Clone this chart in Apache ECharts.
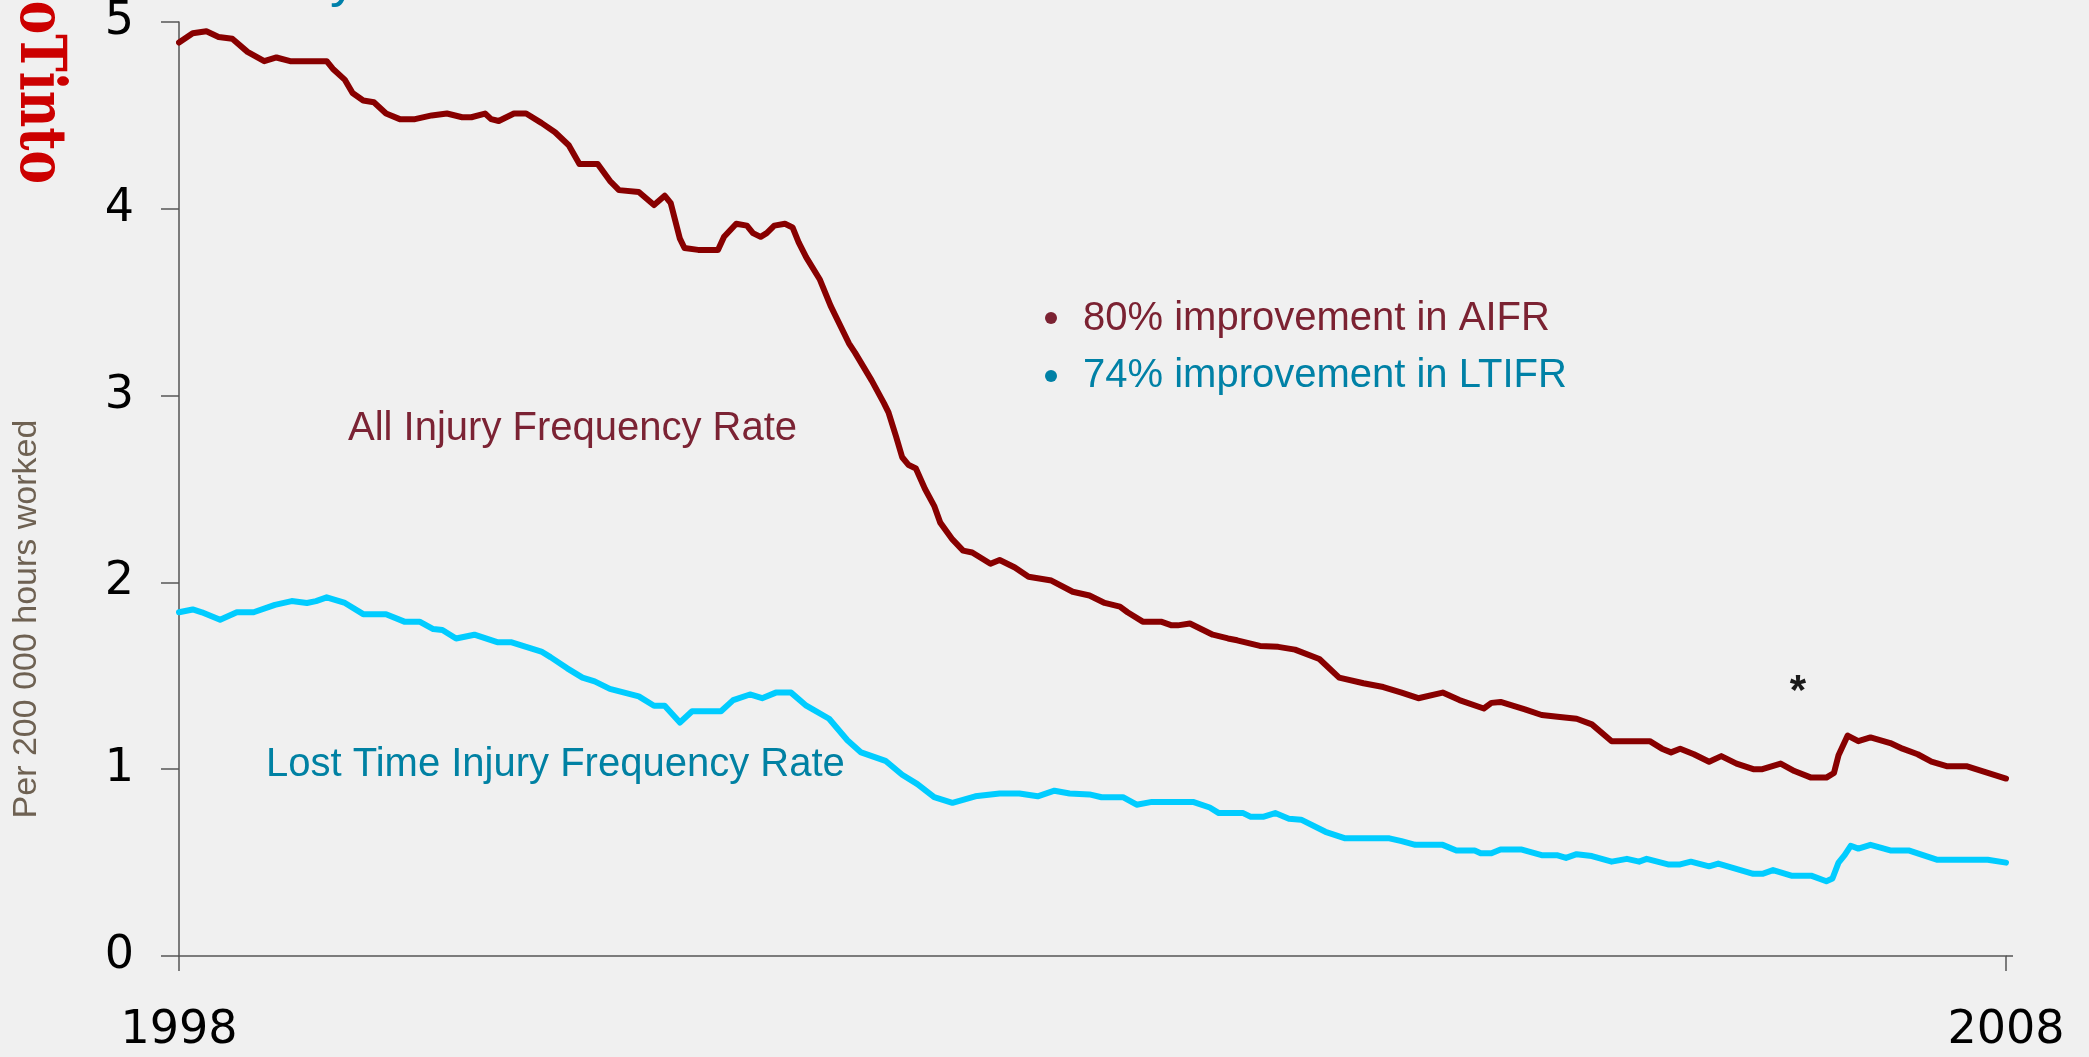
<!DOCTYPE html>
<html>
<head>
<meta charset="utf-8">
<script src="https://cdn.jsdelivr.net/npm/echarts@6/dist/echarts.min.js"></script>
<style>
  html, body { margin: 0; padding: 0; background: #f0f0f0; }
  #chart { width: 2089px; height: 1057px; }
</style>
</head>
<body>
<div id="chart"></div>
<script>
// Months elapsed since Jan 1998 (0 = 1998, 120 = 2008)
const aifrMonths = [0,0.9,1.8,2.6,3.5,4.5,5.6,6.4,7.3,9.7,10.1,10.9,11.4,12.1,12.8,13.6,14.5,15.5,16.6,17.6,18.6,19.2,20.1,20.5,21.0,22.0,22.8,23.8,24.7,25.6,26.3,27.5,28.3,28.9,30.2,31.2,31.9,32.3,32.9,33.2,34.1,35.4,35.8,36.6,37.3,37.7,38.2,38.6,39.1,39.8,40.3,40.7,41.2,42.1,42.8,44.0,44.4,45.5,46.3,46.6,47.1,47.5,47.9,48.4,49.0,49.6,50.0,50.8,51.5,52.1,53.3,53.9,54.9,55.8,57.3,58.7,59.8,60.8,61.8,62.3,63.3,64.5,65.2,65.6,66.4,67.9,68.9,69.5,71.0,72.2,73.3,74.9,76.2,77.8,79.1,80.3,81.4,83.0,84.1,85.7,86.2,86.8,88.4,89.5,90.7,91.8,92.8,94.1,96.6,97.4,98.0,98.6,99.5,100.5,101.3,102.3,103.4,104.0,105.2,106.1,107.2,108.2,108.7,109.0,109.6,110.3,111.1,112.4,113.2,114.2,115.1,116.1,117.4,120];
const aifrValues = [4.89,4.94,4.95,4.92,4.91,4.84,4.79,4.81,4.79,4.79,4.75,4.69,4.62,4.58,4.57,4.51,4.48,4.48,4.50,4.51,4.49,4.49,4.51,4.48,4.47,4.51,4.51,4.46,4.41,4.34,4.24,4.24,4.15,4.10,4.09,4.02,4.07,4.03,3.84,3.79,3.78,3.78,3.85,3.92,3.91,3.87,3.85,3.87,3.91,3.92,3.90,3.82,3.74,3.62,3.48,3.28,3.23,3.08,2.96,2.91,2.78,2.67,2.63,2.61,2.50,2.41,2.32,2.23,2.17,2.16,2.10,2.12,2.08,2.03,2.01,1.95,1.93,1.89,1.87,1.84,1.79,1.79,1.77,1.77,1.78,1.72,1.70,1.69,1.66,1.655,1.64,1.59,1.49,1.46,1.44,1.41,1.38,1.41,1.37,1.325,1.355,1.36,1.32,1.29,1.28,1.27,1.24,1.15,1.15,1.11,1.09,1.11,1.08,1.04,1.07,1.03,1.00,1.00,1.03,0.99,0.955,0.955,0.98,1.075,1.18,1.15,1.17,1.14,1.11,1.08,1.04,1.016,1.016,0.95];

const ltifrMonths = [0,0.9,1.5,2.7,3.8,4.9,6.3,7.4,8.4,9.0,9.7,10.9,12.1,13.6,14.8,15.8,16.7,17.3,18.2,19.4,20.9,21.8,22.8,23.8,24.4,25.5,26.5,27.3,28.3,30.2,31.2,31.9,32.9,33.7,35.6,36.4,37.5,38.3,39.2,40.2,41.2,42.7,43.9,44.8,46.4,47.5,48.5,49.6,50.8,52.3,53.9,55.2,56.4,57.5,58.5,59.8,60.6,62.0,62.9,63.9,66.6,67.7,68.3,69.9,70.4,71.2,72.0,72.9,73.7,75.3,76.6,79.5,80.3,81.2,83.0,83.9,85.1,85.5,86.2,86.8,88.2,89.5,90.5,91.1,91.8,92.8,94.1,95.1,95.9,96.4,97.8,98.6,99.3,100.5,101.1,103.4,104.0,104.7,105.9,107.2,108.2,108.6,109.0,109.4,109.8,110.3,111.1,112.4,113.6,115.5,118.8,120];
const ltifrValues = [1.84,1.855,1.84,1.80,1.84,1.84,1.88,1.90,1.89,1.90,1.92,1.89,1.83,1.83,1.79,1.79,1.75,1.745,1.70,1.72,1.68,1.68,1.655,1.63,1.60,1.54,1.49,1.47,1.43,1.39,1.34,1.34,1.25,1.31,1.31,1.37,1.40,1.38,1.41,1.41,1.34,1.27,1.155,1.09,1.045,0.97,0.92,0.85,0.82,0.855,0.87,0.87,0.855,0.885,0.87,0.865,0.85,0.85,0.81,0.825,0.825,0.795,0.765,0.765,0.745,0.745,0.765,0.735,0.73,0.665,0.63,0.63,0.615,0.595,0.595,0.565,0.565,0.55,0.55,0.57,0.57,0.54,0.54,0.525,0.545,0.535,0.505,0.52,0.505,0.52,0.49,0.49,0.505,0.48,0.495,0.44,0.44,0.46,0.43,0.43,0.40,0.415,0.50,0.54,0.59,0.575,0.595,0.565,0.565,0.515,0.515,0.50];

const startYear = 1998;
const yTicks = [0, 1, 2, 3, 4, 5];
const yAxisName = 'Per 200 000 hours worked';
const seriesNames = ['All Injury Frequency Rate', 'Lost Time Injury Frequency Rate'];
const bullets = ['80% improvement in AIFR', '74% improvement in LTIFR'];

const pair = (xs, ys) => xs.map((x, i) => [x, ys[i]]);

const chart = echarts.init(document.getElementById('chart'), null, { renderer: 'canvas' });
const labelFont = '"DejaVu Sans", sans-serif';
const textFont = '"Liberation Sans", Arial, sans-serif';
const axisColor = '#555';

chart.setOption({
  backgroundColor: '#f0f0f0',
  animation: false,
  grid: { left: 179, right: 83, top: 22, bottom: 101, containLabel: false, outerBoundsMode: 'none' },
  xAxis: {
    type: 'value', min: 0, max: 120, interval: 120,
    axisLine: { show: true, lineStyle: { color: axisColor, width: 1.5 } },
    axisTick: { show: true, length: 15, lineStyle: { color: axisColor, width: 1.5 } },
    splitLine: { show: false },
    axisLabel: {
      margin: 52, fontSize: 46, fontFamily: labelFont, color: '#000',
      showMinLabel: true, showMaxLabel: true,
      formatter: v => String(startYear + v / 12)
    }
  },
  yAxis: {
    type: 'value', min: yTicks[0], max: yTicks[yTicks.length - 1], interval: 1,
    axisLine: { show: true, lineStyle: { color: axisColor, width: 1.5 } },
    axisTick: { show: true, length: 18, lineStyle: { color: axisColor, width: 1.5 } },
    splitLine: { show: false },
    axisLabel: { margin: 45, fontSize: 46, fontFamily: labelFont, color: '#000' }
  },
  series: [
    {
      name: seriesNames[0], type: 'line', data: pair(aifrMonths, aifrValues),
      showSymbol: false, symbol: 'none',
      lineStyle: { color: '#880000', width: 6, join: 'round', cap: 'round' }
    },
    {
      name: seriesNames[1], type: 'line', data: pair(ltifrMonths, ltifrValues),
      showSymbol: false, symbol: 'none',
      lineStyle: { color: '#00ccff', width: 6, join: 'round', cap: 'round' }
    }
  ],
  graphic: [
    { type: 'line', shape: { x1: 2006, y1: 956, x2: 2013, y2: 956 }, style: { stroke: axisColor, lineWidth: 1.5 } },
    { type: 'text', x: 27, y: 619, rotation: Math.PI / 2,
      style: { text: yAxisName, font: '34px ' + textFont, fill: '#6e6152', textAlign: 'center', textVerticalAlign: 'middle' } },
    { type: 'text', x: 348, y: 429,
      style: { text: seriesNames[0], font: '40px ' + textFont, fill: '#7b2334', textAlign: 'left', textVerticalAlign: 'middle' } },
    { type: 'text', x: 266, y: 765,
      style: { text: seriesNames[1], font: '40px ' + textFont, fill: '#0081a3', textAlign: 'left', textVerticalAlign: 'middle' } },
    { type: 'circle', shape: { cx: 1051, cy: 318, r: 6 }, style: { fill: '#7b2232' } },
    { type: 'text', x: 1083, y: 319,
      style: { text: bullets[0], font: '40px ' + textFont, fill: '#7b2232', textAlign: 'left', textVerticalAlign: 'middle' } },
    { type: 'circle', shape: { cx: 1051, cy: 376, r: 6 }, style: { fill: '#0081a6' } },
    { type: 'text', x: 1083, y: 375.5,
      style: { text: bullets[1], font: '40px ' + textFont, fill: '#0081a6', textAlign: 'left', textVerticalAlign: 'middle' } },
    { type: 'text', x: 1798, y: 692,
      style: { text: '*', font: 'bold 42px ' + textFont, fill: '#1a1a1a', textAlign: 'center', textVerticalAlign: 'middle' } },
    { type: 'text', x: 38, y: 184, rotation: -Math.PI / 2, scaleX: 0.785,
      style: { text: 'RioTinto', font: 'bold 64px "DejaVu Serif", serif', fill: '#cc0000', textAlign: 'right', textVerticalAlign: 'middle' } },
    { type: 'text', x: 357, y: 8,
      style: { text: 'Safety', font: '54px ' + textFont, fill: '#0080aa', textAlign: 'right', textVerticalAlign: 'bottom' } }
  ]
});
</script>
</body>
</html>
